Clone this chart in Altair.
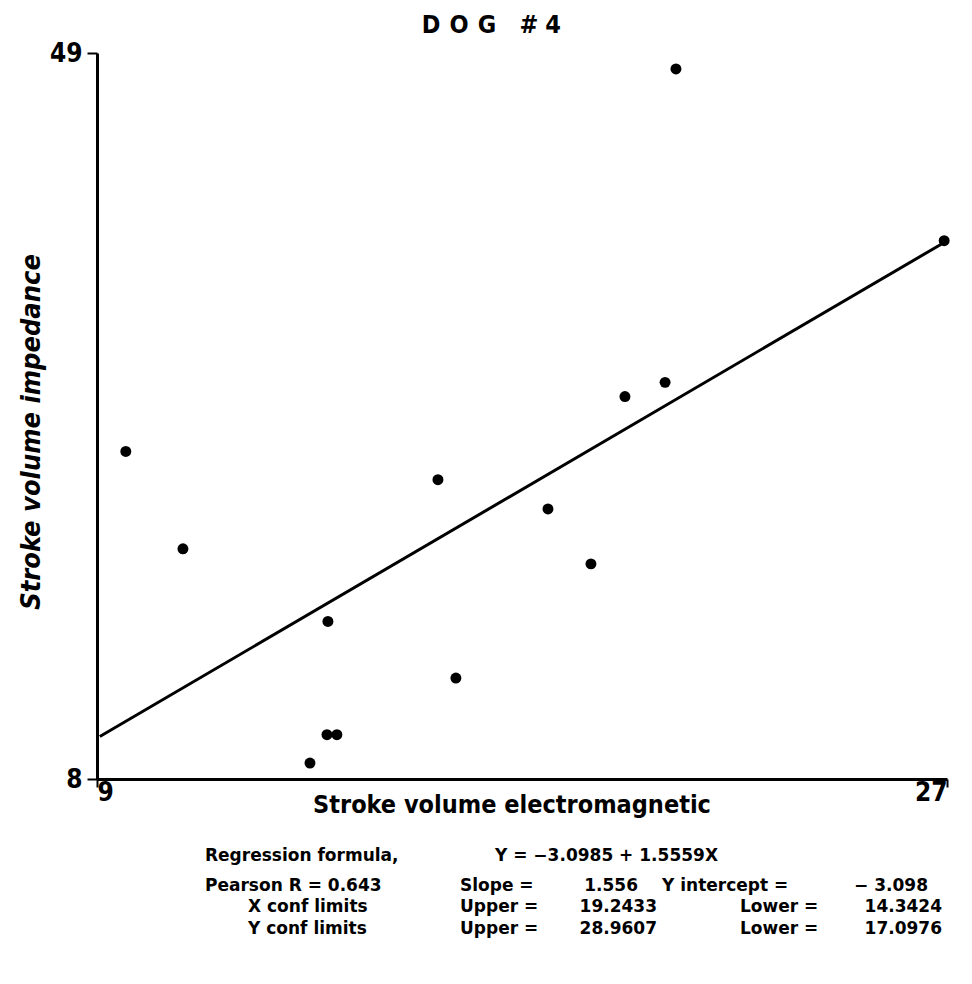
import altair as alt
import pandas as pd

# Data
sv_em = [9.61, 10.82, 13.51, 13.87, 14.08, 13.89, 16.22, 16.60, 18.55, 19.46, 20.18, 21.03, 21.26, 26.94]
sv_imp = [26.5, 21.0, 8.9, 10.5, 10.5, 16.9, 24.9, 13.7, 23.25, 20.15, 29.6, 30.4, 48.1, 38.4]

line_x = [9.06, 26.94]
line_y = [10.4, 38.3]

x_ticks = [9, 27]
y_ticks = [8, 49]

W, H = 850, 726
FONT = "'DejaVu Sans Condensed', 'Liberation Sans', sans-serif"
FONT2 = "'DejaVu Sans', 'Liberation Sans', sans-serif"

pts = pd.DataFrame({"x": sv_em, "y": sv_imp})
ln = pd.DataFrame({"x": line_x, "y": line_y})

xs = alt.Scale(domain=[9, 27], nice=False, zero=False)
ys = alt.Scale(domain=[8, 49], nice=False, zero=False)

axis_common = dict(
    domainColor="black", domainWidth=3, tickColor="black", tickWidth=2,
    labelFont=FONT, labelFontSize=26, labelFontWeight="bold", labelColor="black",
    grid=False, title=None,
)

points = alt.Chart(pts).mark_circle(size=120, color="black", opacity=1).encode(
    x=alt.X("x:Q", scale=xs, axis=alt.Axis(values=x_ticks, tickSize=8, labelPadding=-8, **axis_common)),
    y=alt.Y("y:Q", scale=ys, axis=alt.Axis(values=y_ticks, tickSize=10, labelPadding=5, **axis_common)),
)

reg = alt.Chart(ln).mark_line(color="black", strokeWidth=3).encode(
    x=alt.X("x:Q", scale=xs), y=alt.Y("y:Q", scale=ys)
)

OX, OY = 97, 53  # absolute position of the plot origin on the page


def txt(s, x, y, align="left", size=17, angle=0, italic=False, font=FONT2, baseline="middle"):
    return alt.Chart(pd.DataFrame({"t": [s]})).mark_text(
        font=font, fontSize=size, fontWeight="bold", color="black", align=align,
        baseline=baseline, angle=angle, fontStyle="italic" if italic else "normal",
    ).encode(text="t:N", x=alt.value(x - OX), y=alt.value(y - OY))


R1, R2, R3, R4 = 856, 886, 907, 929
TY = 33
texts = [
    txt("D", 431, TY, align="center", size=25, font=FONT, baseline="alphabetic"),
    txt("O", 459, TY, align="center", size=25, font=FONT, baseline="alphabetic"),
    txt("G", 487, TY, align="center", size=25, font=FONT, baseline="alphabetic"),
    txt("#", 529, TY, align="center", size=25, font=FONT, baseline="alphabetic"),
    txt("4", 553, TY, align="center", size=25, font=FONT, baseline="alphabetic"),
    txt("Stroke volume impedance", 32, 432, align="center", size=27, angle=270, italic=True, font=FONT),
    txt("Stroke volume electromagnetic", 512, 805, align="center", size=25, font=FONT),
    txt("Regression formula,", 205, R1),
    txt("Y = \u22123.0985  +  1.5559X", 718, R1, align="right"),
    txt("Pearson  R = 0.643", 205, R2),
    txt("Slope =", 460, R2),
    txt("1.556", 638, R2, align="right"),
    txt("Y intercept =", 662, R2),
    txt("\u2212 3.098", 928, R2, align="right"),
    txt("X conf limits", 248, R3),
    txt("Upper =", 460, R3),
    txt("19.2433", 657, R3, align="right"),
    txt("Lower =", 740, R3),
    txt("14.3424", 942, R3, align="right"),
    txt("Y conf limits", 248, R4),
    txt("Upper =", 460, R4),
    txt("28.9607", 657, R4, align="right"),
    txt("Lower =", 740, R4),
    txt("17.0976", 942, R4, align="right"),
]

chart = alt.layer(reg, points, *texts).properties(
    width=W, height=H,
    autosize=alt.AutoSizeParams(type="none"),
    padding={"left": OX - 8, "top": OY - 8, "right": 972 - 16 - (OX - 8) - W, "bottom": 984 - 16 - (OY - 8) - H},
).configure(background="white").configure_view(strokeWidth=0)

chart.save("out.html", embed_options={"renderer": "svg", "actions": False})
